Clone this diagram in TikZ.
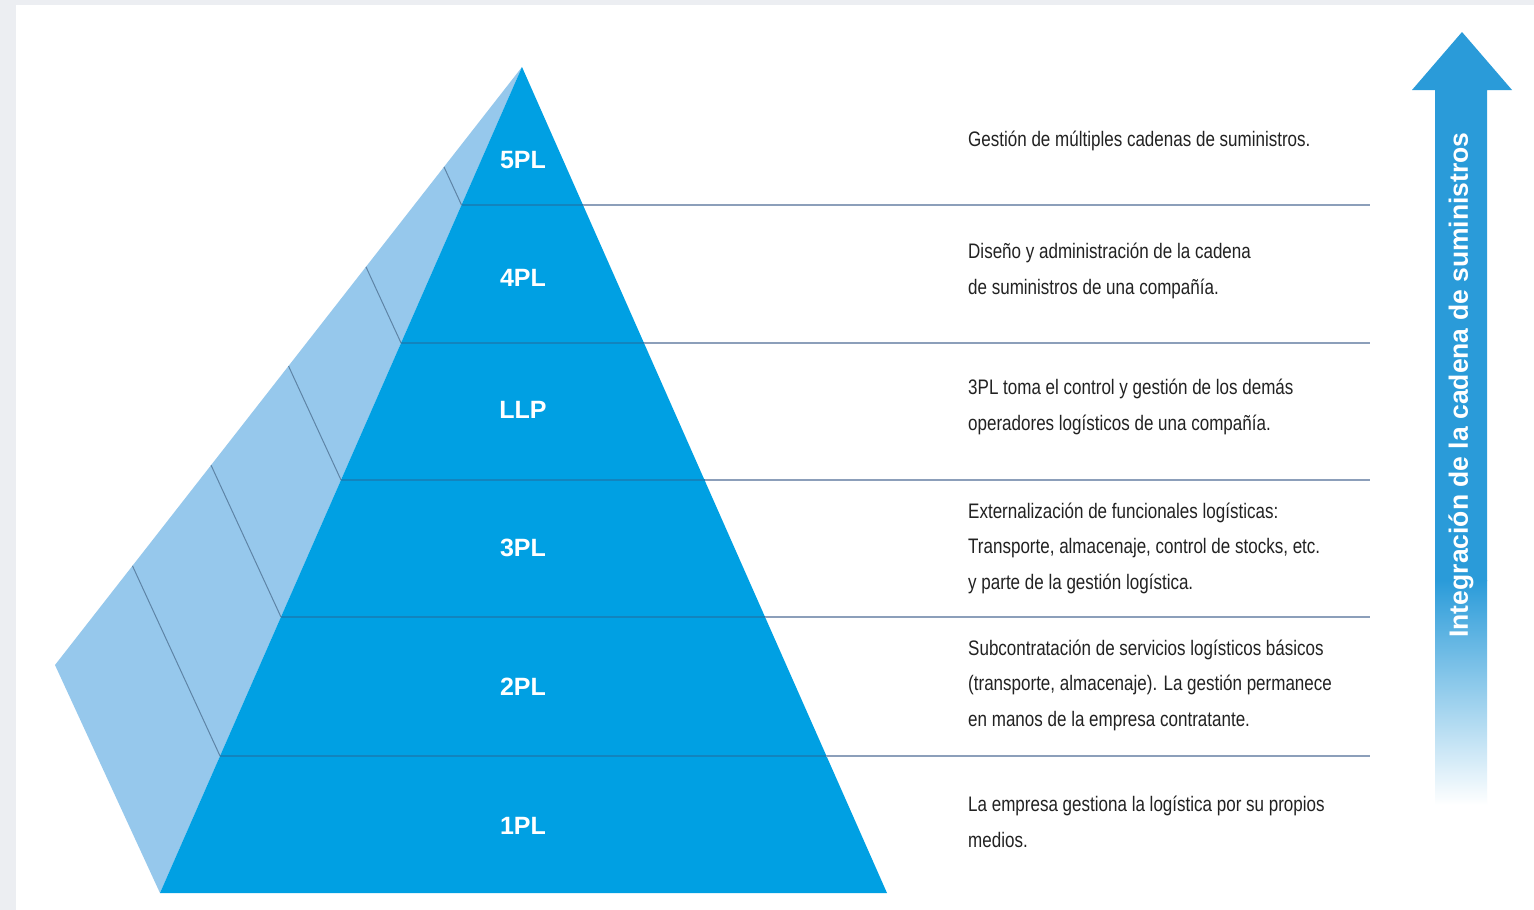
\documentclass[tikz,border=0pt]{standalone}
\usepackage{fontspec}
\setmainfont{Liberation Sans}
\newfontfamily\condfont[FakeStretch=0.81]{Liberation Sans}
\newfontfamily\lblfont{Liberation Sans}
\definecolor{bggrey}{HTML}{ECEEF2}
\definecolor{frontblue}{HTML}{00A0E3}
\definecolor{sideblue}{HTML}{96C8EC}
\definecolor{arrowblue}{HTML}{2A9BD9}
\definecolor{frontline}{HTML}{1284BE}
\definecolor{sidelinec}{HTML}{5E84A6}
\definecolor{rightlinec}{HTML}{8C9FBA}
\definecolor{desctext}{HTML}{222222}
\tikzset{
  levellabel/.style={text=white, font=\lblfont\bfseries\fontsize{25}{28}\selectfont, inner sep=0pt},
  desc/.style={anchor=west, align=left, text=desctext, inner sep=0pt,
    font=\condfont\fontsize{21}{35.5}\selectfont},
  frontdiv/.style={draw=frontline, line width=1.4pt},
  sidediv/.style={draw=sidelinec, line width=1pt},
  rightdiv/.style={draw=rightlinec, line width=1.6pt},
  arrowtext/.style={text=white, font=\bfseries\fontsize{26.5}{30}\selectfont, rotate=90, inner sep=0pt}
}
\begin{document}
\begin{tikzpicture}[x=1pt,y=-1pt]
\useasboundingbox (0,0) rectangle (1534,910);
\fill[bggrey] (0,0) rectangle (1534,910);
\fill[white] (16,5) rectangle (1534,910);

% pyramid
\coordinate (apex) at (522,67);
\coordinate (bl) at (160,893);
\coordinate (br) at (887,893);
\coordinate (back) at (55,665);
\fill[sideblue] (apex) -- (back) -- (bl) -- cycle;
\fill[frontblue] (apex) -- (bl) -- (br) -- cycle;

\foreach \i/\yy in {1/205,2/343,3/480,4/617,5/756}{
  \pgfmathsetmacro{\f}{(\yy-67)/826}
  \coordinate (l\i) at ({522-362*\f},\yy);
  \coordinate (r\i) at ({522+365*\f},\yy);
  \coordinate (b\i) at ({522-467*\f},{67+598*\f});
  \coordinate (e\i) at (1370,\yy);
  \draw[frontdiv] (l\i) -- (r\i);
  \draw[sidediv] (l\i) -- (b\i);
  \draw[rightdiv] (r\i) -- (e\i);
}

\node[levellabel] (p5) at (523,160) {5PL};
\node[levellabel] (p4) at (523,278) {4PL};
\node[levellabel] (pl) at (523,410) {LLP};
\node[levellabel] (p3) at (523,548) {3PL};
\node[levellabel] (p2) at (523,687) {2PL};
\node[levellabel] (p1) at (523,826) {1PL};

% descriptions
\node[desc] (d5) at (968,141) {Gestión de múltiples cadenas de suministros.};
\node[desc] (d4) at (968,271) {Diseño y administración de la cadena\\de suministros de una compañía.};
\node[desc] (dl) at (968,407) {3PL toma el control y gestión de los demás\\operadores logísticos de una compañía.};
\node[desc] (d3) at (968,548) {Externalización de funcionales logísticas:\\Transporte, almacenaje, control de stocks, etc.\\y parte de la gestión logística.};
\node[desc] (d2) at (968,685) {Subcontratación de servicios logísticos básicos\\(transporte, almacenaje). La gestión permanece\\en manos de la empresa contratante.};
\node[desc] (d1) at (968,822) {La empresa gestiona la logística por su propios\\medios.};

% arrow
\fill[arrowblue] (1435,581) -- (1435,90) -- (1412,90) -- (1462,32) -- (1512,90) -- (1487,90) -- (1487,581) -- cycle;
\shade[top color=arrowblue, middle color=arrowblue!42!white, bottom color=white] (1435,580) rectangle (1487,805);
\node[arrowtext] (at) at (1461,385) {Integración de la cadena de suministros};
\end{tikzpicture}
\end{document}
